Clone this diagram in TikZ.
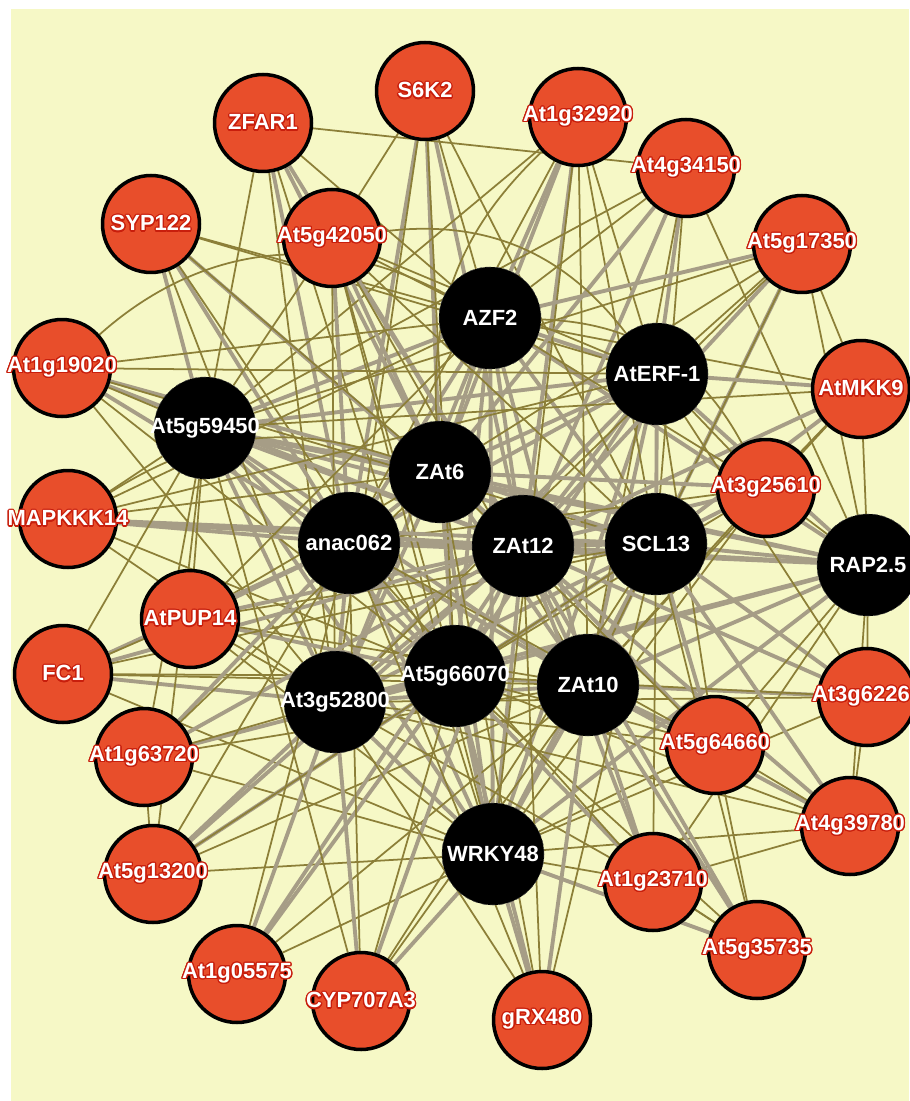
\documentclass[tikz,border=0pt]{standalone}
\usepackage{fontspec}
\setmainfont{Liberation Sans}
\usepackage{contour}
\contourlength{0.7pt}
\usepackage{xcolor}
\usetikzlibrary{positioning}
\definecolor{pageyellow}{RGB}{246,248,198}
\definecolor{genered}{RGB}{232,78,43}
\definecolor{halored}{RGB}{200,30,12}
\definecolor{greylink}{RGB}{166,157,134}
\definecolor{olivelink}{RGB}{140,127,56}
\pgfdeclarelayer{links}
\pgfsetlayers{links,main}
\newcommand{\glab}[1]{\makebox[0pt]{\contour{halored}{#1}}}
\newcommand{\hlab}[1]{\makebox[0pt]{#1}}
\tikzset{%
	gene/.style={
		circle,
		draw=black,
		line width=2pt,
		fill=genered,
		minimum size=1.94cm,
		inner sep=0pt,
		text=white,
		font=\bfseries\fontsize{12.5}{14}\selectfont
	},
	hub/.style={
		circle,
		draw=black!75,
		densely dashed,
		line width=0.3pt,
		fill=black,
		minimum size=2.04cm,
		inner sep=0pt,
		text=white,
		font=\bfseries\fontsize{12.5}{14}\selectfont
	},
	grey link/.style={draw=greylink, line width=2.2pt},
	olive link/.style={draw=olivelink, line width=1pt},
}

\begin{document}
\begin{tikzpicture}[x=0.02cm,y=-0.02cm]
	\useasboundingbox (0,0) rectangle (909,1101);
	
	% hub genes
	\node[hub] (azf2) at (490,318) {\hlab{AZF2}};
	\node[hub] (aterf) at (657,374) {\hlab{AtERF-1}};
	\node[hub] (at5g59450) at (205,428) {\hlab{At5g59450}};
	\node[hub] (zat6) at (440,472) {\hlab{ZAt6}};
	\node[hub] (anac062) at (349,543) {\hlab{anac062}};
	\node[hub] (zat12) at (523,546) {\hlab{ZAt12}};
	\node[hub] (scl13) at (656,544) {\hlab{SCL13}};
	\node[hub] (rap25) at (868,565) {\hlab{RAP2.5}};
	\node[hub] (at3g52800) at (335,702) {\hlab{At3g52800}};
	\node[hub] (at5g66070) at (455,676) {\hlab{At5g66070}};
	\node[hub] (zat10) at (588,685) {\hlab{ZAt10}};
	\node[hub] (wrky48) at (493,854) {\hlab{WRKY48}};
	
	% outer genes
	\node[gene] (s6k2) at (425,91) {\glab{S6K2}};
	\node[gene] (zfar1) at (263,123) {\glab{ZFAR1}};
	\node[gene] (at1g32920) at (578,117) {\glab{At1g32920}};
	\node[gene] (syp122) at (151,224) {\glab{SYP122}};
	\node[gene] (at4g34150) at (686,168) {\glab{At4g34150}};
	\node[gene] (at5g42050) at (332,238) {\glab{At5g42050}};
	\node[gene] (at5g17350) at (802,244) {\glab{At5g17350}};
	\node[gene] (at1g19020) at (62,368) {\glab{At1g19020}};
	\node[gene] (atmkk9) at (861,389) {\glab{AtMKK9}};
	\node[gene] (at3g25610) at (766,488) {\glab{At3g25610}};
	\node[gene] (mapkkk14) at (68,519) {\glab{MAPKKK14}};
	\node[gene] (atpup14) at (190,619) {\glab{AtPUP14}};
	\node[gene] (fc1) at (63,674) {\glab{FC1}};
	\node[gene] (at3g62260) at (867,697) {\glab{At3g62260}};
	\node[gene] (at1g63720) at (144,757) {\glab{At1g63720}};
	\node[gene] (at5g64660) at (715,745) {\glab{At5g64660}};
	\node[gene] (at4g39780) at (850,826) {\glab{At4g39780}};
	\node[gene] (at5g13200) at (153,874) {\glab{At5g13200}};
	\node[gene] (at1g23710) at (653,882) {\glab{At1g23710}};
	\node[gene] (at5g35735) at (757,950) {\glab{At5g35735}};
	\node[gene] (at1g05575) at (237,974) {\glab{At1g05575}};
	\node[gene] (cyp707a3) at (361,1001) {\glab{CYP707A3}};
	\node[gene] (grx480) at (542,1020) {\glab{gRX480}};
	
	\begin{pgfonlayer}{links}
		% page and paper
		\fill[white] (0,0) rectangle (909,1101);
		\fill[pageyellow] (11,9) rectangle (909,1101);
		
		% hub to hub
		\foreach \a [count=\i] in {azf2,aterf,at5g59450,zat6,anac062,zat12,scl13,rap25,at3g52800,at5g66070,zat10,wrky48}
		\foreach \b [count=\j] in {azf2,aterf,at5g59450,zat6,anac062,zat12,scl13,rap25,at3g52800,at5g66070,zat10,wrky48}
		{\ifnum\j>\i \draw[grey link] (\a) -- (\b); \fi}
		
		% outer genes: grey links / olive links
		\foreach \g/\gl/\ol in {
			s6k2/{zat6,zat12,anac062}/{azf2,at5g66070,scl13,at3g52800,at5g42050},
			zfar1/{anac062,zat12,zat6}/{at5g59450,azf2,at3g52800,wrky48,at4g34150},
			at1g32920/{zat6,azf2,zat12}/{aterf,scl13,anac062,at5g59450,zat10,wrky48},
			syp122/{anac062,zat12,at5g59450}/{zat6,at3g52800,at5g66070,azf2,aterf},
			at4g34150/{zat12,aterf,zat6}/{azf2,scl13,at5g59450,rap25,zat10},
			at5g42050/{zat6,anac062,zat12}/{at5g59450,azf2,aterf,scl13,at3g52800,at5g66070,zat10,wrky48},
			at5g17350/{scl13,azf2,zat12}/{aterf,zat6,at5g59450,rap25,zat10,at3g52800,atmkk9},
			at1g19020/{anac062,zat6,zat12}/{at5g59450,azf2,aterf,at3g52800,at5g66070,scl13},
			atmkk9/{scl13,aterf,zat12}/{rap25,azf2,at5g59450,zat10,at3g25610},
			at3g25610/{zat12,scl13,zat6}/{aterf,rap25,azf2,anac062,zat10,at5g66070,wrky48},
			mapkkk14/{anac062,zat12,scl13}/{at5g59450,zat6,at3g52800,at5g66070,azf2,aterf},
			atpup14/{anac062,at5g66070,zat12}/{at5g59450,at3g52800,zat6,zat10,scl13,wrky48,azf2},
			fc1/{at3g52800,zat12,anac062}/{at5g59450,at5g66070,zat10,atpup14,wrky48,scl13},
			at3g62260/{zat10,scl13,zat12}/{rap25,at5g66070,aterf,wrky48,at3g52800,at4g39780},
			at1g63720/{at5g66070,zat12,anac062}/{at3g52800,at5g59450,zat10,wrky48,zat6,at5g13200},
			at5g64660/{zat10,zat12,scl13}/{rap25,wrky48,at5g66070,at3g52800,aterf,anac062,zat6},
			at4g39780/{scl13,zat10,zat12}/{rap25,at5g64660,wrky48,at5g66070,at3g52800,at1g23710},
			at5g13200/{at3g52800,zat12,at5g66070}/{wrky48,anac062,zat10,at5g59450,scl13},
			at1g23710/{zat10,zat12,at5g66070}/{wrky48,scl13,at3g52800,anac062,rap25,at5g35735},
			at5g35735/{zat10,wrky48,zat12}/{at5g64660,scl13,at5g66070,at1g23710},
			at1g05575/{at3g52800,at5g66070,zat12}/{wrky48,zat10,anac062},
			cyp707a3/{at3g52800,zat12,wrky48}/{at5g66070,zat10,anac062,scl13,at5g59450},
			grx480/{wrky48,zat10,at5g66070}/{zat12,at3g52800,scl13,zat6,anac062}}
		{
			\foreach \h in \gl \draw[grey link] (\g) -- (\h);
			\foreach \h in \ol \draw[olive link] (\g) -- (\h);
		}
		
		% a few bent links
		\draw[olive link] (at1g19020) to[bend left=35] (azf2);
		\draw[olive link] (at5g42050) to[bend left=30] (aterf);
		\draw[olive link] (mapkkk14) to[bend left=25] (zat6);
		\draw[olive link] (at3g25610) to[bend right=30] (azf2);
		\draw[olive link] (at1g32920) to[bend right=25] (zat6);
	\end{pgfonlayer}
\end{tikzpicture}
\end{document}
